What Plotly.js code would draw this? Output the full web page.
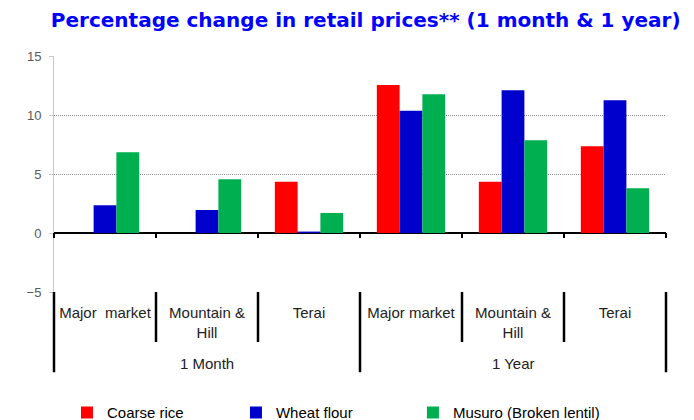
<!DOCTYPE html>
<html>
<head>
<meta charset="utf-8">
<script src="https://cdn.plot.ly/plotly-3.0.1.min.js"></script>
<style>html,body{margin:0;padding:0;background:#fff;}#chart{width:694px;height:420px;}</style>
</head>
<body>
<div id="chart"></div>
<script>
var periods = ["1 Month", "1 Month", "1 Month", "1 Year", "1 Year", "1 Year"];
var markets = ["Major  market", "Mountain &<br>Hill", "Terai", "Major market", "Mountain &<br>Hill", "Terai"];
var coarseRice = [0, 0, 4.35, 12.55, 4.35, 7.35];
var wheatFlour = [2.35, 1.95, 0.12, 10.35, 12.1, 11.25];
var musuro = [6.85, 4.55, 1.7, 11.75, 7.85, 3.8];
var seriesNames = ["Coarse rice", "Wheat flour", "Musuro (Broken lentil)"];
var seriesColors = ["#FF0000", "#0000CC", "#00B050"];
var yTicks = [-5, 0, 5, 10, 15];

var keys = periods.map(function (p, i) { return p + "|" + i; });
var allSeries = [coarseRice, wheatFlour, musuro];
var legendIds = ["legend", "legend2", "legend3"];
var data = allSeries.map(function (vals, i) {
  return {
    type: "bar",
    x: keys,
    y: vals,
    name: seriesNames[i],
    marker: {color: seriesColors[i], line: {width: 0}},
    legend: legendIds[i],
    hoverinfo: "y+name"
  };
});

var shapes = [];
var nCat = markets.length;
for (var k = 0; k <= nCat; k++) {
  // tick marks under the zero line at category boundaries
  shapes.push({type: "line", xref: "paper", yref: "y", x0: k / nCat, x1: k / nCat, y0: 0, y1: -0.42,
    line: {color: "#000", width: 2}});
  // separators in the category label area
  var outer = (k === 0 || k === nCat || periods[k] !== periods[k - 1]);
  shapes.push({type: "line", xref: "paper", yref: "paper", x0: k / nCat, x1: k / nCat, y0: 0, y1: outer ? -0.34 : -0.212,
    line: {color: "#000", width: 2.5}});
}

// outer (period) labels centred under their groups
var annotations = [];
var uniq = periods.filter(function (p, i) { return periods.indexOf(p) === i; });
uniq.forEach(function (p) {
  var idx = [];
  periods.forEach(function (q, i) { if (q === p) idx.push(i); });
  var mid = (idx[0] + idx[idx.length - 1]) / 2;
  annotations.push({text: p, xref: "paper", yref: "paper", x: (mid + 0.5) / nCat, y: -0.305,
    xanchor: "center", yanchor: "middle", showarrow: false,
    font: {family: "Liberation Sans, Arial, sans-serif", size: 15, color: "#222"}});
});

var legendFont = {family: "Liberation Sans, Arial, sans-serif", size: 15, color: "#000"};
function leg(x) {
  return {orientation: "h", xref: "container", yref: "container", x: x, y: 0.017, xanchor: "left", yanchor: "middle",
    font: legendFont, bgcolor: "rgba(0,0,0,0)", itemclick: false, itemdoubleclick: false};
}

var layout = {
  width: 694, height: 420,
  margin: {l: 54, r: 28, t: 56, b: 128},
  paper_bgcolor: "#fff", plot_bgcolor: "#fff",
  title: {text: "<b>Percentage change in retail prices** (1 month & 1 year)</b>",
    font: {family: "DejaVu Sans, Verdana, sans-serif", size: 20, color: "#0000FF"},
    xref: "container", yref: "container", x: 0.527, y: 0.952, xanchor: "center", yanchor: "middle"},
  barmode: "group", bargap: 0.33, bargroupgap: 0,
  xaxis: {type: "category", tickvals: keys, ticktext: markets, showgrid: false, showline: false, ticks: "",
    ticklabelstandoff: 10,
    tickfont: {family: "Liberation Sans, Arial, sans-serif", size: 15, color: "#222"}},
  yaxis: {range: [-5, 15], tickvals: yTicks, showgrid: true, gridcolor: "#8c8c8c", griddash: "1px,1px", gridwidth: 1,
    zeroline: true, zerolinecolor: "#000", zerolinewidth: 2,
    showline: true, linecolor: "#c8c8c8", linewidth: 1, ticks: "outside", ticklen: 4, tickcolor: "#c8c8c8",
    ticklabelstandoff: 5,
    tickfont: {family: "Liberation Sans, Arial, sans-serif", size: 13, color: "#595959"}},
  shapes: shapes,
  annotations: annotations,
  legend: leg(0.0965),
  legend2: leg(0.34),
  legend3: leg(0.595),
  showlegend: true
};

Plotly.newPlot("chart", data, layout, {displayModeBar: false, staticPlot: true});
</script>
</body>
</html>
